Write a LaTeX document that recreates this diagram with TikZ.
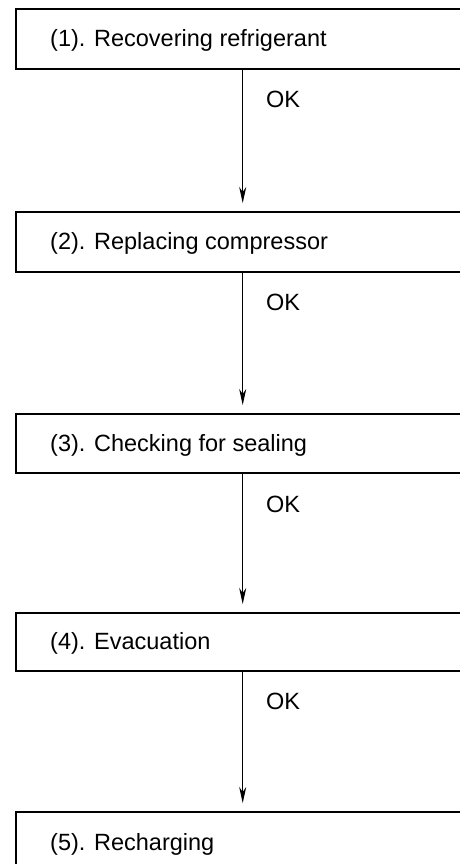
\documentclass[tikz,border=0pt]{standalone}
\usepackage{fontspec}
\usetikzlibrary{arrows.meta}
\newfontfamily\labfont{Liberation Sans}
\begin{document}
\begin{tikzpicture}[x=1pt,y=-1pt,
  stepbox/.style={draw=black, line width=2.4pt, fill=white, rectangle, inner sep=0pt,
    minimum width=480pt, anchor=north west},
  lbl/.style={anchor=base west, inner sep=0pt, font=\labfont\fontsize{23.5}{28}\selectfont},
  arr/.style={line width=1pt, -{Stealth[length=16pt,width=7pt,inset=5pt]}}]
\useasboundingbox (0,0) rectangle (460,864);
\clip (0,0) rectangle (460,864);
\fill[white] (0,0) rectangle (460,864);
% boxes
\node[stepbox, minimum height=60pt] (b1) at (15,8) {};
\node[stepbox, minimum height=60pt] (b2) at (15,211) {};
\node[stepbox, minimum height=59pt] (b3) at (15,413) {};
\node[stepbox, minimum height=58pt] (b4) at (15,612) {};
\node[stepbox, minimum height=60pt] (b5) at (15,811) {};
% texts
\node[lbl] (t1) at (50,46.5) {(1). Recovering refrigerant};
\node[lbl] (t2) at (50,249.5) {(2). Replacing compressor};
\node[lbl] (t3) at (50,451) {(3). Checking for sealing};
\node[lbl] (t4) at (50,649.5) {(4). Evacuation};
\node[lbl] (t5) at (50,850) {(5). Recharging};
% arrows
\foreach \a/\b in {b1/b2,b2/b3,b3/b4,b4/b5}{
  \draw[arr] ([xshift=227.7pt]\a.south west) -- ([xshift=227.7pt,yshift=8pt]\b.north west);
}
% OK labels
\node[lbl] (ok1) at (266,107) {OK};
\node[lbl] (ok2) at (266,310) {OK};
\node[lbl] (ok3) at (266,512) {OK};
\node[lbl] (ok4) at (266,709) {OK};
\end{tikzpicture}
\end{document}
